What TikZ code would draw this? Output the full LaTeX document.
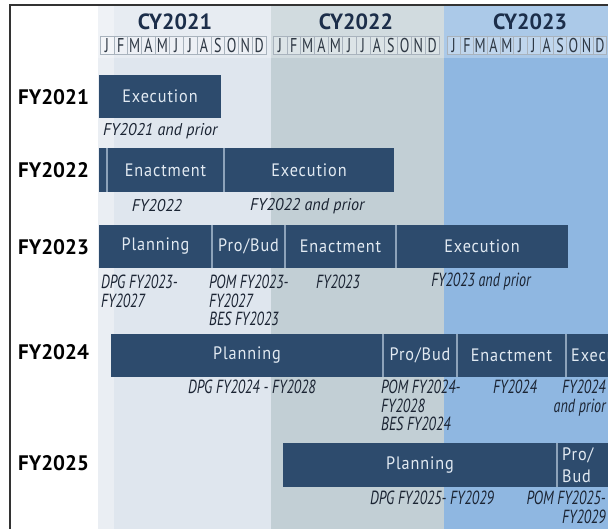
\documentclass[tikz,border=0pt]{standalone}
\usepackage{fontspec}
\setmainfont{PT Sans}
\newfontfamily\barfont[FakeStretch=0.9,LetterSpace=5]{PT Sans}
\newfontfamily\labfont[FakeStretch=0.95]{PT Sans}
\newfontfamily\narfont[FakeStretch=0.74]{PT Sans}
\newfontfamily\monfont[FakeStretch=0.7]{PT Sans}
\definecolor{colA}{HTML}{DFE6EE}
\definecolor{colB}{HTML}{C2CFD5}
\definecolor{colC}{HTML}{8FB7E1}
\definecolor{barc}{HTML}{2D4B6D}
\definecolor{bartext}{HTML}{E2EAF2}
\definecolor{sepc}{HTML}{8DA3BA}
\definecolor{labc}{HTML}{1B2433}
\definecolor{cyc}{HTML}{1C2E4A}
\definecolor{monbox}{HTML}{A9B3BD}
\definecolor{monc}{HTML}{2E3844}
\newcommand\seg[6]{%
  \node[barseg, minimum width={(#3-#2)*1pt}, minimum height={(#5-#4)*1pt}, anchor=north west] (#1) at (#2,#4) {#6};}
\begin{document}
\begin{tikzpicture}[x=1pt,y=-1pt,
  barseg/.style={fill=barc, inner sep=0pt, outer sep=0pt, text=bartext, font=\barfont\fontsize{18}{22}\selectfont},
  bartxt/.style={inner sep=0pt, text=bartext, font=\barfont\fontsize{18}{22}\selectfont},
  sepl/.style={draw=sepc, line width=1.2pt},
  rowlab/.style={anchor=west, inner sep=0pt, text=black, font=\bfseries\fontsize{21}{24}\selectfont},
  cylab/.style={inner sep=0pt, text=cyc, font=\bfseries\fontsize{22}{24}\selectfont},
  mon/.style={draw=monbox, line width=0.6pt, fill=white, fill opacity=0.25, text opacity=1, text=monc, minimum height=18pt, inner sep=0pt, font=\monfont\fontsize{20}{20}\selectfont},
  lab/.style={inner sep=0pt, text=labc, font=\labfont\itshape\fontsize{17}{19}\selectfont},
  nlab/.style={inner sep=0pt, text=labc, align=left, font=\narfont\itshape\fontsize{19}{18.5}\selectfont},
  frame/.style={draw=black!80, line width=2pt}
]
\useasboundingbox (0,0) rectangle (608,529);
\fill[white] (0,0) rectangle (608,529);
\begin{scope}
\clip (0,0) rectangle (608,529);
% year columns
\fill[colA] (98,5) rectangle (271,529);
\fill[white, opacity=0.35] (98,5) rectangle (114,529);
\fill[colB] (271,5) rectangle (444,529);
\fill[colC] (444,5) rectangle (608,529);
\fill[white, opacity=0.25] (98,5) rectangle (608,58);
% header
\node[cylab] (cy21) at (175,22) {CY2021};
\node[cylab] (cy22) at (356,22) {CY2022};
\node[cylab] (cy23) at (530,22) {CY2023};
\foreach \k/\s/\w in {0/100/13.85,1/273/13.85,2/447/13.3} {
  \foreach \l [count=\i from 0] in {J,F,M,A,M,J,J,A,S,O,N,D} {
    \node[mon, minimum width=\w pt] (m\k-\i) at ({\s+(\i+0.5)*\w}, 45.5) {\l};
  }
}
% row labels
\node[rowlab] (fy21) at (18,97) {FY2021};
\node[rowlab] (fy22) at (18,170) {FY2022};
\node[rowlab] (fy23) at (18,247) {FY2023};
\node[rowlab] (fy24) at (18,352) {FY2024};
\node[rowlab] (fy25) at (18,463) {FY2025};
% FY2021
\seg{r1a}{99}{221}{75}{118}{Execution}
\node[lab, anchor=west] (l1a) at (103,131) {FY2021 and prior};
% FY2022
\seg{r2a}{99}{107}{148}{192}{}
\seg{r2b}{107}{224}{148}{192}{Enactment}
\seg{r2c}{224}{394}{148}{192}{Execution}
\draw[sepl] (r2b.north west) -- (r2b.south west);
\draw[sepl] (r2c.north west) -- (r2c.south west);
\node[lab] (l2a) at (157,206) {FY2022};
\node[lab, anchor=west] (l2b) at (250,206) {FY2022 and prior};
% FY2023
\seg{r3a}{99}{212}{225}{268}{Planning}
\seg{r3b}{212}{285}{225}{268}{Pro/Bud}
\seg{r3c}{285}{396}{225}{268}{Enactment}
\seg{r3d}{396}{568}{225}{268}{Execution}
\draw[sepl] (r3b.north west) -- (r3b.south west);
\draw[sepl] (r3c.north west) -- (r3c.south west);
\draw[sepl] (r3d.north west) -- (r3d.south west);
\node[nlab, anchor=north west] (l3a) at (101,275) {DPG FY2023-\\FY2027};
\node[nlab, anchor=north west] (l3b) at (209,275) {POM FY2023-\\FY2027\\BES FY2023};
\node[nlab] (l3c) at (338,282) {FY2023};
\node[nlab] (l3d) at (481,282) {FY2023 and prior};
% FY2024
\seg{r4a}{111}{383}{334}{377}{Planning}
\seg{r4b}{383}{457}{334}{377}{Pro/Bud}
\seg{r4c}{457}{566}{334}{377}{Enactment}
\seg{r4d}{566}{640}{334}{377}{}
\node[bartxt, anchor=west] (r4dt) at (571,355.5) {Execution};
\draw[sepl] (r4b.north west) -- (r4b.south west);
\draw[sepl] (r4c.north west) -- (r4c.south west);
\draw[sepl] (r4d.north west) -- (r4d.south west);
\node[nlab] (l4a) at (252,387) {DPG FY2024 - FY2028};
\node[nlab, anchor=north west] (l4b) at (381,380) {POM FY2024-\\FY2028\\BES FY2024};
\node[nlab] (l4c) at (515,387) {FY2024};
\node[nlab, anchor=north east, align=right] (l4d) at (606,380) {FY2024\\and prior};
% FY2025
\seg{r5a}{283}{557}{443}{487}{Planning}
\seg{r5b}{557}{640}{443}{487}{}
\node[bartxt, anchor=west, align=left] (r5bt) at (562,465) {Pro/\\Bud};
\draw[sepl] (r5b.north west) -- (r5b.south west);
\node[nlab] (l5a) at (432,498) {DPG FY2025- FY2029};
\node[nlab, anchor=north east, align=right] (l5b) at (606,491) {POM FY2025-\\FY2029};
\end{scope}
\draw[frame] (10,529) -- (10,5) -- (608,5);
\end{tikzpicture}
\end{document}
